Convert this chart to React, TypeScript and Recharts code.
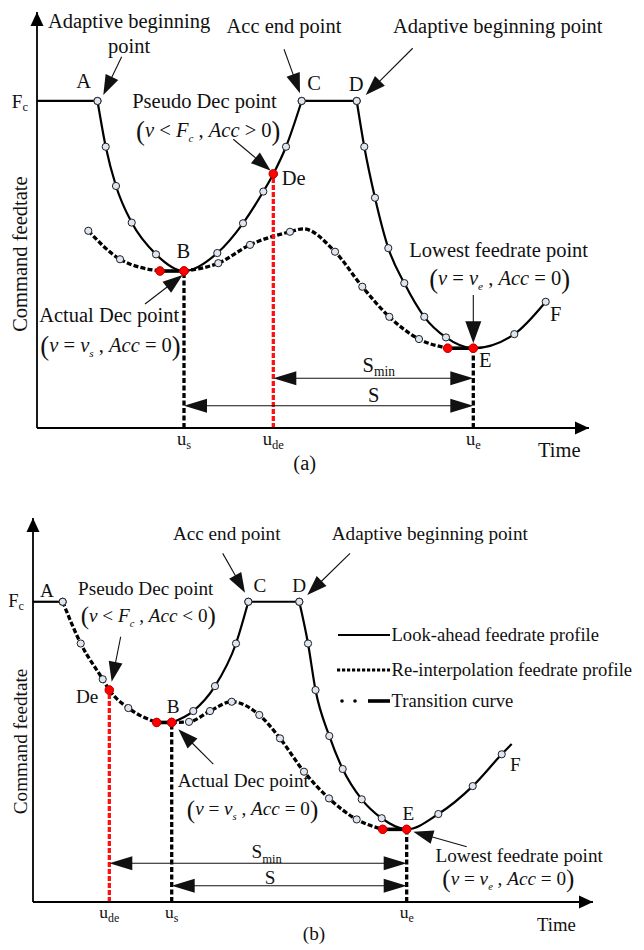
import React from 'react';
import {
  ComposedChart,
  Line,
  XAxis,
  YAxis,
  ReferenceLine,
  ReferenceDot,
  Legend,
} from 'recharts';

const FONT = '"Liberation Serif", "Times New Roman", Times, serif';
const INK = '#111';
const W = 644;
const H = 475;

// t: time (0..10), v: command feedrate normalised so that Fc = 1
// p: 's' = interpolation sample (hollow dot), 'k' = key point (red dot)
type Pt = { t: number; v: number; p?: 's' | 'k' };

const legendLabels = [
  'Look-ahead feedrate profile',
  'Re-interpolation feedrate profile',
  'Transition curve',
];

/* ---------------- panel (a): pseudo Dec point while accelerating ---------------- */
const fcA = 1;
const yMaxA = 1.272;
const keyA_a: Pt = { t: 1.096, v: 1.0, p: 's' };
const keyB_a: Pt = { t: 2.663, v: 0.48, p: 'k' };
const keyDe_a: Pt = { t: 4.281, v: 0.777, p: 'k' };
const keyC_a: Pt = { t: 4.795, v: 1.0, p: 's' };
const keyD_a: Pt = { t: 5.792, v: 1.0, p: 's' };
const keyE_a: Pt = { t: 7.904, v: 0.244, p: 'k' };
const keyF_a: Pt = { t: 9.216, v: 0.386, p: 's' };
const transStartA1: Pt = { t: 2.228, v: 0.48, p: 'k' };
const transStartA2: Pt = { t: 7.44, v: 0.244, p: 'k' };

const fcLevelA: Pt[] = [{ t: 0, v: fcA }, keyA_a];
const lookAheadDipA: Pt[] = [
  keyA_a,
  { t: 1.245, v: 0.86, p: 's' },
  { t: 1.431, v: 0.74, p: 's' },
  { t: 1.716, v: 0.628, p: 's' },
  { t: 2.156, v: 0.531, p: 's' },
  keyB_a,
  { t: 3.266, v: 0.535, p: 's' },
  { t: 3.732, v: 0.626, p: 's' },
  { t: 4.1, v: 0.723, p: 's' },
  keyDe_a,
  { t: 4.511, v: 0.86, p: 's' },
  keyC_a,
];
const plateauA: Pt[] = [keyC_a, keyD_a];
const lookAheadFallA: Pt[] = [
  keyD_a,
  { t: 5.929, v: 0.86, p: 's' },
  { t: 6.123, v: 0.704, p: 's' },
  { t: 6.364, v: 0.55, p: 's' },
  { t: 6.654, v: 0.443, p: 's' },
  { t: 7.016, v: 0.34, p: 's' },
  { t: 7.409, v: 0.277, p: 's' },
  keyE_a,
  { t: 8.647, v: 0.287, p: 's' },
  keyF_a,
];
const reinterpHeadA: Pt[] = [
  { t: 0.929, v: 0.603, p: 's' },
  { t: 1.504, v: 0.516, p: 's' },
  transStartA1,
];
const reinterpTailA: Pt[] = [
  keyB_a,
  { t: 3.284, v: 0.504, p: 's' },
  { t: 3.859, v: 0.56, p: 's' },
  { t: 4.583, v: 0.6, p: 's' },
  { t: 4.819, v: 0.609 },
  { t: 5.399, v: 0.539, p: 's' },
  { t: 5.893, v: 0.432, p: 's' },
  { t: 6.382, v: 0.34, p: 's' },
  { t: 6.92, v: 0.272, p: 's' },
  transStartA2,
];
const transitionA1: Pt[] = [transStartA1, keyB_a];
const transitionA2: Pt[] = [transStartA2, keyE_a];
const ticksA = [keyB_a.t, keyDe_a.t, keyE_a.t];
const tickSubsA = ['s', 'de', 'e'];

/* ---------------- panel (b): pseudo Dec point while decelerating ---------------- */
const fcB = 1;
const yMaxB = 1.279;
const keyA_b: Pt = { t: 0.53, v: 1.0, p: 's' };
const keyDe_b: Pt = { t: 1.363, v: 0.706, p: 'k' };
const keyB_b: Pt = { t: 2.477, v: 0.598, p: 'k' };
const keyC_b: Pt = { t: 3.845, v: 1.0, p: 's' };
const keyD_b: Pt = { t: 4.755, v: 1.0, p: 's' };
const keyE_b: Pt = { t: 6.673, v: 0.242, p: 'k' };
const transStartB1: Pt = { t: 2.209, v: 0.598, p: 'k' };
const transStartB2: Pt = { t: 6.245, v: 0.242, p: 'k' };

const fcLevelB: Pt[] = [{ t: 0, v: fcB }, keyA_b];
const lookAheadRiseB: Pt[] = [
  keyB_b,
  { t: 2.862, v: 0.636, p: 's' },
  { t: 3.25, v: 0.719, p: 's' },
  { t: 3.625, v: 0.861, p: 's' },
  keyC_b,
];
const plateauB: Pt[] = [keyC_b, keyD_b];
const lookAheadFallB: Pt[] = [
  keyD_b,
  { t: 4.911, v: 0.861, p: 's' },
  { t: 5.045, v: 0.706, p: 's' },
  { t: 5.291, v: 0.553, p: 's' },
  { t: 5.53, v: 0.443, p: 's' },
  { t: 5.87, v: 0.342, p: 's' },
  { t: 6.227, v: 0.279, p: 's' },
  keyE_b,
  { t: 7.238, v: 0.293, p: 's' },
  { t: 7.852, v: 0.386, p: 's' },
  { t: 8.37, v: 0.492, p: 's' },
  { t: 8.548, v: 0.526 },
];
const reinterpHeadB: Pt[] = [
  keyA_b,
  { t: 0.852, v: 0.861, p: 's' },
  { t: 1.245, v: 0.742, p: 's' },
  keyDe_b,
  { t: 1.702, v: 0.646, p: 's' },
  transStartB1,
];
const reinterpTailB: Pt[] = [
  keyB_b,
  { t: 2.786, v: 0.6, p: 's' },
  { t: 3.161, v: 0.636, p: 's' },
  { t: 3.548, v: 0.667, p: 's' },
  { t: 4.041, v: 0.623, p: 's' },
  { t: 4.411, v: 0.545, p: 's' },
  { t: 4.839, v: 0.434, p: 's' },
  { t: 5.286, v: 0.345, p: 's' },
  { t: 5.78, v: 0.275, p: 's' },
  transStartB2,
];
const transitionB1: Pt[] = [transStartB1, keyB_b];
const transitionB2: Pt[] = [transStartB2, keyE_b];
const ticksB = [keyDe_b.t, keyB_b.t, keyE_b.t];
const tickSubsB = ['de', 's', 'e'];

/* ---------------- shared drawing helpers ---------------- */
const AXIS = { stroke: '#000', strokeWidth: 1.8 };
const SOLID = { stroke: '#000', strokeWidth: 2.2 };
const DASHED = { stroke: '#000', strokeWidth: 3.3, strokeDasharray: '5 2.2' };
const THICK = { stroke: '#000', strokeWidth: 3.6 };

const renderDot = (props: any) => {
  const { cx, cy, payload, index } = props;
  const key = `dot-${index}-${cx}`;
  if (!payload || !payload.p || cx == null || cy == null) return <g key={key} />;
  if (payload.p === 'k') {
    return <circle key={key} cx={cx} cy={cy} r={4.2} fill="#ff0000" stroke="#c40000" strokeWidth={0.8} />;
  }
  return <circle key={key} cx={cx} cy={cy} r={3.6} fill="#dfe6f1" stroke="#1e1e1e" strokeWidth={1} />;
};

const textShape =
  (lines: string[], size: number, anchor: 'start' | 'middle' | 'end' = 'middle', gap = 25) =>
  (p: any) => (
    <text x={p.cx} y={p.cy} textAnchor={anchor} fontFamily={FONT} fontSize={size} fill={INK}>
      {lines.map((l, i) => (
        <tspan key={i} x={p.cx} dy={i ? gap : 0}>
          {l}
        </tspan>
      ))}
    </text>
  );

type MathPart = [string, 'i' | 'r' | 's'];
const mathShape = (parts: MathPart[], size: number) => (p: any) => {
  const drop = size * 0.14;
  const sub = size * 0.26;
  let off = drop;
  const spans: React.ReactNode[] = [
    <tspan key="open" fontSize={size * 1.3} dy={drop}>
      (
    </tspan>,
  ];
  parts.forEach(([s, k], i) => {
    const target = k === 's' ? sub : 0;
    spans.push(
      <tspan
        key={i}
        dy={target - off}
        fontStyle={k === 'r' ? 'normal' : 'italic'}
        fontSize={k === 's' ? size * 0.55 : size}
      >
        {s}
      </tspan>
    );
    off = target;
  });
  spans.push(
    <tspan key="close" fontSize={size * 1.3} dy={drop - off}>
      )
    </tspan>
  );
  return (
    <text x={p.cx} y={p.cy} textAnchor="middle" fontFamily={FONT} fontSize={size} fill={INK} style={{ whiteSpace: 'pre' }}>
      {spans}
    </text>
  );
};

const subShape = (base: string, subText: string, size: number) => (p: any) => (
  <text x={p.cx} y={p.cy} textAnchor="middle" fontFamily={FONT} fontSize={size} fill={INK}>
    {base}
    <tspan fontSize={size * 0.66} dy={size * 0.22}>
      {subText}
    </tspan>
  </text>
);

const arrowShape =
  (head: number, half: number, both = false, width = 1.1) =>
  (p: any) => {
    const { x1, y1, x2, y2 } = p;
    const dx = x2 - x1;
    const dy = y2 - y1;
    const len = Math.hypot(dx, dy) || 1;
    const ux = dx / len;
    const uy = dy / len;
    const nx = -uy;
    const ny = ux;
    const tri = (tx: number, ty: number, sx: number, sy: number) => {
      const bx = tx - sx * head;
      const by = ty - sy * head;
      return `${tx},${ty} ${bx + nx * half},${by + ny * half} ${bx - nx * half},${by - ny * half}`;
    };
    const sx = both ? x1 + ux * head * 0.9 : x1;
    const sy = both ? y1 + uy * head * 0.9 : y1;
    return (
      <g>
        <line x1={sx} y1={sy} x2={x2 - ux * head * 0.9} y2={y2 - uy * head * 0.9} stroke={INK} strokeWidth={width} />
        <polygon points={tri(x2, y2, ux, uy)} fill={INK} />
        {both && <polygon points={tri(x1, y1, -ux, -uy)} fill={INK} />}
      </g>
    );
  };

const axisHead = (dir: 'up' | 'right') => (p: any) => {
  const { cx, cy } = p;
  const L = 14;
  const h = 6.5;
  const pts =
    dir === 'up'
      ? `${cx},${cy} ${cx - h},${cy + L} ${cx + h},${cy + L}`
      : `${cx},${cy} ${cx - L},${cy - h} ${cx - L},${cy + h}`;
  return <polygon points={pts} fill="#000" />;
};

const uTick = (ticks: number[], subs: string[], size: number, dy: number) => (p: any) => {
  const i = ticks.findIndex((t) => Math.abs(t - p.payload.value) < 1e-6);
  return (
    <text x={p.x} y={p.y + dy} textAnchor="middle" fontFamily={FONT} fontSize={size} fill={INK}>
      u
      <tspan fontSize={size * 0.68} dy={size * 0.2}>
        {subs[i]}
      </tspan>
    </text>
  );
};

const fcTick = (size: number, dy: number) => (p: any) => (
  <text x={p.x - 9} y={p.y + dy} textAnchor="end" fontFamily={FONT} fontSize={size} fill={INK}>
    F
    <tspan fontSize={size * 0.66} dy={size * 0.18}>
      c
    </tspan>
  </text>
);

const yTitle = (size: number) => (p: any) => {
  const vb = p.viewBox || {};
  return (
    <text
      transform={`translate(${(vb.x || 0) + 26.5}, ${vb.y + vb.height * 0.582}) rotate(-90)`}
      textAnchor="middle"
      fontFamily={FONT}
      fontSize={size}
      fill={INK}
    >
      Command feedtate
    </text>
  );
};

const xTitle = (size: number, back: number, dy: number) => (p: any) => {
  const vb = p.viewBox || {};
  return (
    <text x={vb.x + vb.width - back} y={vb.y + dy} fontFamily={FONT} fontSize={size} fill={INK}>
      Time
    </text>
  );
};

const Note = (t: number, v: number, shape: (p: any) => React.ReactNode, key: string) => (
  <ReferenceDot key={key} x={t} y={v} r={0} ifOverflow="visible" shape={shape as any} />
);

const Arrow = (
  from: [number, number],
  to: [number, number],
  key: string,
  head = 20,
  half = 7,
  both = false
) => (
  <ReferenceLine
    key={key}
    segment={[
      { x: from[0], y: from[1] },
      { x: to[0], y: to[1] },
    ]}
    ifOverflow="visible"
    shape={arrowShape(head, half, both) as any}
  />
);

const Guide = (pt: Pt, red: boolean, key: string) => (
  <ReferenceLine
    key={key}
    segment={[
      { x: pt.t, y: 0 },
      { x: pt.t, y: pt.v },
    ]}
    ifOverflow="visible"
    stroke={red ? '#ff1010' : '#000'}
    strokeWidth={3.3}
    strokeDasharray={red ? '5 2' : '5 2.5'}
  />
);

const series = (
  data: Pt[],
  style: any,
  key: string,
  curved = true,
  name?: string
) => (
  <Line
    key={key}
    data={data}
    dataKey="v"
    type={curved ? 'monotone' : 'linear'}
    {...style}
    fill="none"
    dot={renderDot}
    activeDot={false}
    isAnimationActive={false}
    name={name ?? key}
    legendType={name ? 'line' : 'none'}
  />
);

/* ---------------- legend for panel (b) ---------------- */
const legendContent = (props: any) => {
  const names: string[] = (props.payload ?? []).map((e: any) => e.value).filter((n: string) => legendLabels.includes(n));
  const rows = names.length ? legendLabels.filter((l) => names.includes(l)) : legendLabels;
  const rowY = [12, 47, 78];
  return (
    <svg width={310} height={92} style={{ display: 'block', overflow: 'visible' }}>
      {rows.map((label, i) => {
        const y = rowY[i];
        const kind = legendLabels.indexOf(label);
        return (
          <g key={label}>
            {kind === 0 && <line x1={2} y1={y} x2={54} y2={y} stroke="#000" strokeWidth={2} />}
            {kind === 1 && (
              <line x1={1} y1={y} x2={54} y2={y} stroke="#000" strokeWidth={3} strokeDasharray="3.2 1.8" />
            )}
            {kind === 2 && (
              <g>
                <circle cx={6} cy={y} r={1.8} fill="#000" />
                <circle cx={19} cy={y} r={1.8} fill="#000" />
                <line x1={32} y1={y} x2={54} y2={y} stroke="#000" strokeWidth={3.6} />
              </g>
            )}
            <text x={55.5} y={y + 6} fontFamily={FONT} fontSize={18.6} fill={INK}>
              {label}
            </text>
          </g>
        );
      })}
    </svg>
  );
};

/* ---------------- panels ---------------- */
function PanelA() {
  const fs = 20.5;
  return (
    <ComposedChart width={W} height={H} margin={{ top: 12, right: 55, bottom: 17, left: 0 }}>
      <XAxis
        dataKey="t"
        type="number"
        domain={[0, 10]}
        ticks={ticksA}
        interval={0}
        height={30}
        tickSize={0}
        tickMargin={0}
        tickLine={false}
        axisLine={AXIS}
        tick={uTick(ticksA, tickSubsA, 18.5, 17)}
        label={xTitle(fs, 51, 29)}
      />
      <YAxis
        type="number"
        domain={[0, yMaxA]}
        ticks={[fcA]}
        interval={0}
        width={37}
        tickSize={0}
        tickMargin={0}
        tickLine={false}
        axisLine={AXIS}
        tick={fcTick(19, 7)}
        label={yTitle(fs)}
      />
      {Guide(keyB_a, false, 'g-us')}
      {Guide(keyE_a, false, 'g-ue')}
      {series(fcLevelA, SOLID, 'fcA', false)}
      {series(lookAheadDipA, SOLID, 'laDipA')}
      {series(plateauA, SOLID, 'platA', false)}
      {series(lookAheadFallA, SOLID, 'laFallA')}
      {series(reinterpHeadA, DASHED, 'riHeadA')}
      {series(reinterpTailA, DASHED, 'riTailA')}
      {Guide(keyDe_a, true, 'g-ude')}
      {series(transitionA1, THICK, 'trA1', false)}
      {series(transitionA2, THICK, 'trA2', false)}
      {series([keyDe_a], SOLID, 'deA', false)}

      <ReferenceDot x={10} y={0} r={0} ifOverflow="visible" shape={axisHead('right') as any} />
      <ReferenceDot x={0} y={yMaxA} r={0} ifOverflow="visible" shape={axisHead('up') as any} />

      {Note(1.667, 1.2232, textShape(['Adaptive beginning', 'point'], fs), 'n1')}
      {Arrow([1.534, 1.1355], [1.201, 1.0183], 'a1')}
      {Note(0.846, 1.0388, textShape(['A'], fs), 'nA')}
      {Note(4.475, 1.208, textShape(['Acc end point'], fs), 'n2')}
      {Arrow([4.475, 1.1581], [4.764, 1.0235], 'a2')}
      {Note(5.018, 1.0336, textShape(['C'], fs), 'nC')}
      {Note(5.784, 1.0315, textShape(['D'], fs), 'nD')}
      {Note(8.348, 1.207, textShape(['Adaptive beginning point'], fs), 'n3')}
      {Arrow([6.806, 1.1612], [5.955, 1.0183], 'a3')}
      {Note(3.034, 0.9777, textShape(['Pseudo Dec point'], fs), 'n4')}
      {Note(
        3.103,
        0.8908,
        mathShape(
          [
            ['v', 'i'],
            [' < ', 'r'],
            ['F', 'i'],
            ['c', 's'],
            [' , ', 'r'],
            ['Acc', 'i'],
            [' > 0', 'r'],
          ],
          fs
        ),
        'm4'
      )}
      {Arrow([3.556, 0.8829], [4.234, 0.7869], 'a4')}
      {Note(4.433, 0.7431, textShape(['De'], fs, 'start'), 'nDe')}
      {Note(2.65, 0.519, textShape(['B'], fs), 'nB')}
      {Note(1.308, 0.3251, textShape(['Actual Dec point'], fs), 'n5')}
      {Note(
        1.332,
        0.2333,
        mathShape(
          [
            ['v', 'i'],
            [' = ', 'r'],
            ['v', 'i'],
            ['s', 's'],
            [' , ', 'r'],
            ['Acc', 'i'],
            [' = 0', 'r'],
          ],
          fs
        ),
        'm5'
      )}
      {Arrow([1.957, 0.3792], [2.639, 0.4679], 'a5')}
      {Note(8.364, 0.5239, textShape(['Lowest feedrate point'], fs), 'n6')}
      {Note(
        8.382,
        0.4373,
        mathShape(
          [
            ['v', 'i'],
            [' = ', 'r'],
            ['v', 'i'],
            ['e', 's'],
            [' , ', 'r'],
            ['Acc', 'i'],
            [' = 0', 'r'],
          ],
          fs
        ),
        'm6'
      )}
      {Arrow([keyE_a.t, 0.4067], [keyE_a.t, 0.259], 'a6', 22, 8)}
      {Note(8.007, 0.1875, textShape(['E'], fs, 'start'), 'nE')}
      {Note(9.293, 0.3281, textShape(['F'], fs, 'start'), 'nF')}
      {Note(6.192, 0.1722, subShape('S', 'min', fs), 'nSmin')}
      {Arrow([keyDe_a.t, 0.152], [keyE_a.t, 0.152], 'aSmin', 23, 7, true)}
      {Note(6.101, 0.0804, textShape(['S'], fs), 'nS')}
      {Arrow([keyB_a.t, 0.0682], [keyE_a.t, 0.0682], 'aS', 23, 7, true)}
      {Note(4.85, -0.1285, textShape(['(a)'], fs), 'cap')}
    </ComposedChart>
  );
}

function PanelB() {
  const fs = 19.2;
  return (
    <ComposedChart width={W} height={H} margin={{ top: 43, right: 51, bottom: 18, left: 0 }}>
      <XAxis
        dataKey="t"
        type="number"
        domain={[0, 10]}
        ticks={ticksB}
        interval={0}
        height={30}
        tickSize={0}
        tickMargin={0}
        tickLine={false}
        axisLine={AXIS}
        tick={uTick(ticksB, tickSubsB, 17.5, 16)}
        label={xTitle(18.7, 56, 28.7)}
      />
      <YAxis
        type="number"
        domain={[0, yMaxB]}
        ticks={[fcB]}
        interval={0}
        width={33}
        tickSize={0}
        tickMargin={0}
        tickLine={false}
        axisLine={AXIS}
        tick={fcTick(18.5, 5)}
        label={yTitle(fs)}
      />
      <Legend
        layout="horizontal"
        verticalAlign="middle"
        align="center"
        width={310}
        wrapperStyle={{ left: 336, top: 148, width: 310 }}
        content={legendContent}
      />
      {Guide(keyB_b, false, 'g-us')}
      {Guide(keyE_b, false, 'g-ue')}
      {series(fcLevelB, SOLID, 'fcB', false)}
      {series(lookAheadRiseB, SOLID, 'laRiseB', true, legendLabels[0])}
      {series(plateauB, SOLID, 'platB', false)}
      {series(lookAheadFallB, SOLID, 'laFallB')}
      {series(reinterpHeadB, DASHED, 'riHeadB', true, legendLabels[1])}
      {series(reinterpTailB, DASHED, 'riTailB')}
      {Guide(keyDe_b, true, 'g-ude')}
      {series(transitionB1, THICK, 'trB1', false, legendLabels[2])}
      {series(transitionB2, THICK, 'trB2', false)}
      {series([keyDe_b], SOLID, 'deB', false)}

      <ReferenceDot x={10} y={0} r={0} ifOverflow="visible" shape={axisHead('right') as any} />
      <ReferenceDot x={0} y={yMaxB} r={0} ifOverflow="visible" shape={axisHead('up') as any} />

      {Note(3.459, 1.2055, textShape(['Acc end point'], fs), 'n1')}
      {Arrow([3.388, 1.1612], [3.786, 1.03], 'a1')}
      {Note(4.054, 1.0333, textShape(['C'], fs), 'nC')}
      {Note(4.754, 1.0333, textShape(['D'], fs), 'nD')}
      {Note(7.086, 1.2055, textShape(['Adaptive beginning point'], fs), 'n2')}
      {Arrow([5.661, 1.1612], [4.898, 1.0223], 'a2')}
      {Note(0.25, 1.0166, textShape(['A'], fs), 'nA')}
      {Note(2.014, 1.0223, textShape(['Pseudo Dec point'], fs), 'n3')}
      {Note(
        2.059,
        0.9334,
        mathShape(
          [
            ['v', 'i'],
            [' < ', 'r'],
            ['F', 'i'],
            ['c', 's'],
            [' , ', 'r'],
            ['Acc', 'i'],
            [' < 0', 'r'],
          ],
          fs
        ),
        'm3'
      )}
      {Arrow([1.566, 0.8835], [1.405, 0.7336], 'a3')}
      {Note(1.166, 0.6617, textShape(['De'], fs, 'end'), 'nDe')}
      {Note(2.505, 0.6304, textShape(['B'], fs), 'nB')}
      {Note(3.755, 0.384, textShape(['Actual Dec point'], fs), 'n4')}
      {Note(
        3.92,
        0.2897,
        mathShape(
          [
            ['v', 'i'],
            [' = ', 'r'],
            ['v', 'i'],
            ['s', 's'],
            [' , ', 'r'],
            ['Acc', 'i'],
            [' = 0', 'r'],
          ],
          fs
        ),
        'm4'
      )}
      {Arrow([3.22, 0.4595], [2.595, 0.5751], 'a4')}
      {Note(8.682, 0.1345, textShape(['Lowest feedrate point'], fs), 'n5')}
      {Note(
        8.488,
        0.058,
        mathShape(
          [
            ['v', 'i'],
            [' = ', 'r'],
            ['v', 'i'],
            ['e', 's'],
            [' , ', 'r'],
            ['Acc', 'i'],
            [' = 0', 'r'],
          ],
          fs
        ),
        'm5'
      )}
      {Arrow([7.745, 0.1841], [6.791, 0.2341], 'a5')}
      {Note(6.702, 0.2731, textShape(['E'], fs), 'nE')}
      {Note(8.518, 0.4372, textShape(['F'], fs, 'start'), 'nF')}
      {Note(4.173, 0.1455, subShape('S', 'min', fs), 'nSmin')}
      {Arrow([keyDe_b.t, 0.1289], [keyE_b.t, 0.1289], 'aSmin', 23, 7, true)}
      {Note(4.232, 0.0589, textShape(['S'], fs), 'nS')}
      {Arrow([keyB_b.t, 0.0543], [keyE_b.t, 0.0543], 'aS', 23, 7, true)}
      {Note(5.018, -0.1265, textShape(['(b)'], fs), 'cap')}
    </ComposedChart>
  );
}

export default function App() {
  return (
    <div style={{ position: 'absolute', left: 0, top: 0, width: W, height: 2 * H, background: '#fff' }}>
      <PanelA />
      <PanelB />
    </div>
  );
}
